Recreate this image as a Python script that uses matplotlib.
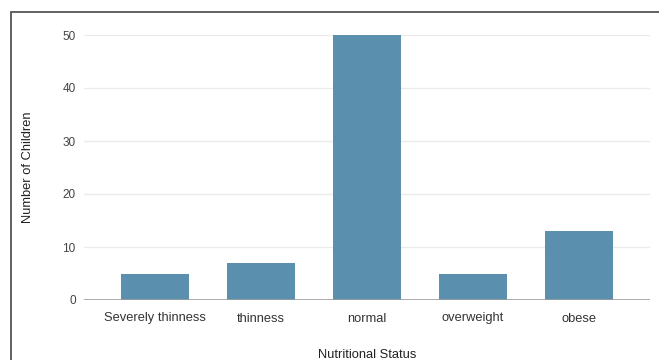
import matplotlib
matplotlib.use("Agg")
import matplotlib.pyplot as plt
from matplotlib.patches import Rectangle

categories = ["Severely thinness", "thinness", "normal", "overweight", "obese"]
counts = [5, 7, 50, 5, 13]
y_ticks = [0, 10, 20, 30, 40, 50]

plt.rcParams['font.family'] = ['Liberation Sans', 'DejaVu Sans']

W, H = 659, 360
fig = plt.figure(figsize=(W / 100, H / 100), dpi=100)
fig.patch.set_facecolor('white')

# outer frame
fig.patches.append(Rectangle((10.5 / W, -0.1), 1.2, (H - 11.5) / H + 0.1,
                             transform=fig.transFigure, fill=False,
                             edgecolor='#555555', linewidth=1.3))

ax = fig.add_axes([84 / W, 60 / H, (650 - 84) / W, (300 - 35) / H])
x = list(range(len(categories)))
ax.bar(x, counts, width=0.64, color='#5a8fae', zorder=3)
ax.set_xlim(-0.67, len(categories) - 1 + 0.67)
ax.set_ylim(0, 50)
ax.set_yticks(y_ticks)
ax.set_xticks(x)
ax.set_xticklabels(categories)
ax.grid(axis='y', color='#ebebeb', linewidth=1, zorder=0)
ax.axhline(0, color='#9e9e9e', linewidth=1.2, zorder=4)
for s in ax.spines.values():
    s.set_visible(False)
ax.tick_params(axis='x', length=0, labelsize=9.3, labelcolor='#333333', pad=9)
ax.tick_params(axis='y', length=0, labelsize=8.5, labelcolor='#444444', pad=6)
ax.set_ylabel("Number of Children", fontsize=9.3, color='#222222')
ax.set_xlabel("Nutritional Status", fontsize=9.3, color='#222222', labelpad=18)
ax.yaxis.set_label_coords(-50 / (650 - 84), 0.5)

fig.savefig("out.png", dpi=100)
